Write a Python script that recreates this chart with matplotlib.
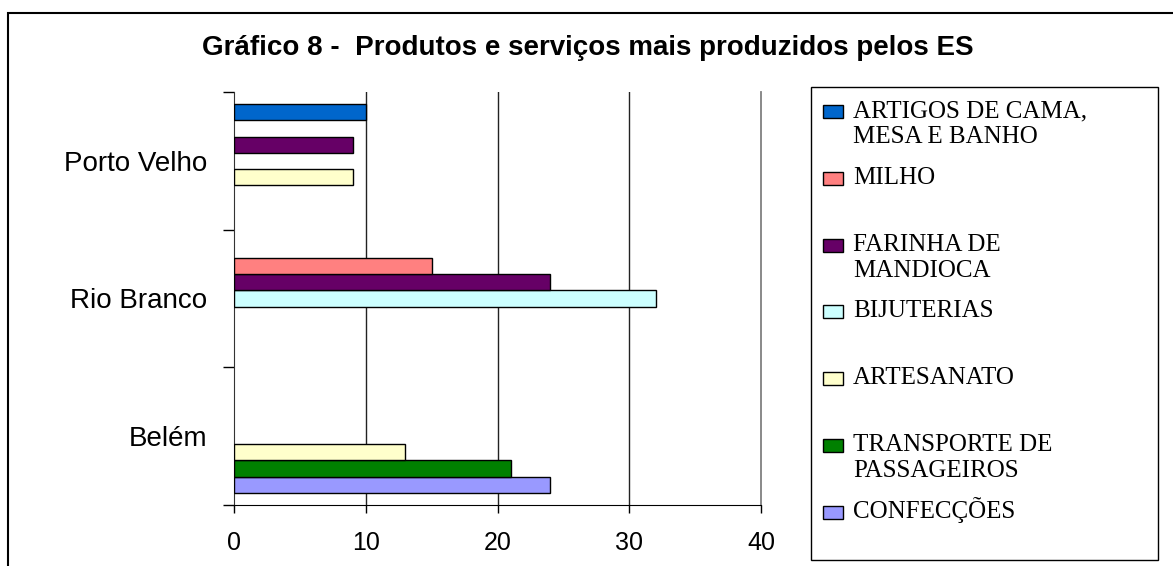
import numpy as np
import matplotlib.pyplot as plt
from matplotlib.patches import Rectangle

# Data (categories bottom -> top, like the Excel chart)
cidades = ['Belém', 'Rio Branco', 'Porto Velho']
artigos = [0, 0, 10]
milho = [0, 15, 0]
farinha = [0, 24, 9]
bijuterias = [0, 32, 0]
artesanato = [13, 0, 9]
transporte = [21, 0, 0]
confeccoes = [24, 0, 0]

nomes = ['CONFECÇÕES', 'TRANSPORTE DE\nPASSAGEIROS', 'ARTESANATO', 'BIJUTERIAS',
         'FARINHA DE\nMANDIOCA', 'MILHO', 'ARTIGOS DE CAMA,\nMESA E BANHO']
cores = ['#9999FF', '#008000', '#FFFFCC', '#CCFFFF', '#660066', '#FF8080', '#0066CC']
valores = [confeccoes, transporte, artesanato, bijuterias, farinha, milho, artigos]

W, H = 1173, 566
fig = plt.figure(figsize=(W / 100, H / 100), dpi=100)
ax = fig.add_axes([234 / W, (H - 505) / H, 527 / W, 413 / H])

sans = 'Liberation Sans'
serif = 'Liberation Serif'

# bars, Excel style: 7 slots + gap width 150%
h = 1 / 8.5
y = np.arange(len(cidades))
for i, (vals, cor) in enumerate(zip(valores, cores)):
    vals = np.array(vals, dtype=float)
    m = vals > 0
    ax.barh(y[m] + (i - 3) * h, vals[m], height=h, color=cor,
            edgecolor='black', linewidth=1, zorder=3)

ax.set_xlim(0, 40)
ax.set_ylim(-0.5, 2.5)
ax.set_xticks([0, 10, 20, 30, 40])
for gx in [10, 20, 30]:
    ax.axvline(gx, color='#222222', linewidth=1, zorder=1)

ax.spines['top'].set_visible(False)
ax.spines['right'].set_color('#808080')
ax.spines['right'].set_linewidth(1.3)
ax.spines['left'].set_color('#333333')
ax.spines['bottom'].set_color('black')

ax.set_yticks(y)
ax.set_yticklabels(cidades, fontsize=20, family=sans)
ax.set_yticks([-0.5, 0.5, 1.5, 2.5], minor=True)
ax.tick_params(axis='y', which='major', length=0, pad=19)
ax.tick_params(axis='y', which='minor', length=8, width=1, direction='out')
ax.tick_params(axis='x', length=6, width=1, direction='out', pad=13, labelsize=18)
for t in ax.get_xticklabels():
    t.set_family(sans)

# title
fig.text(588 / W, 1 - 55 / H, 'Gráfico 8 -  Produtos e serviços mais produzidos pelos ES',
         ha='center', va='baseline', fontsize=20, fontweight='bold', family=sans)

# outer chart border (runs off the right and bottom edges)
fig.add_artist(Rectangle((8 / W, -0.05), 1.2, (H - 13) / H + 0.05,
                         transform=fig.transFigure, fill=False, ec='black', lw=1.5))

# legend box
fig.add_artist(Rectangle((811 / W, (H - 560) / H), (1158 - 811) / W, (560 - 87) / H,
                         transform=fig.transFigure, fill=False, ec='black', lw=1))

base0 = 117
step = 66.8
for k, (nome, cor) in enumerate(zip(nomes[::-1], cores[::-1])):
    b = base0 + k * step
    fig.add_artist(Rectangle((823 / W, 1 - (b + 1) / H), 20 / W, 13 / H,
                             transform=fig.transFigure, fc=cor, ec='black', lw=1))
    for j, linha in enumerate(nome.split('\n')):
        fig.text(853 / W, 1 - (b + j * 26) / H, linha, ha='left', va='baseline',
                 fontsize=18, family=serif)

fig.savefig('out.png', dpi=100)
